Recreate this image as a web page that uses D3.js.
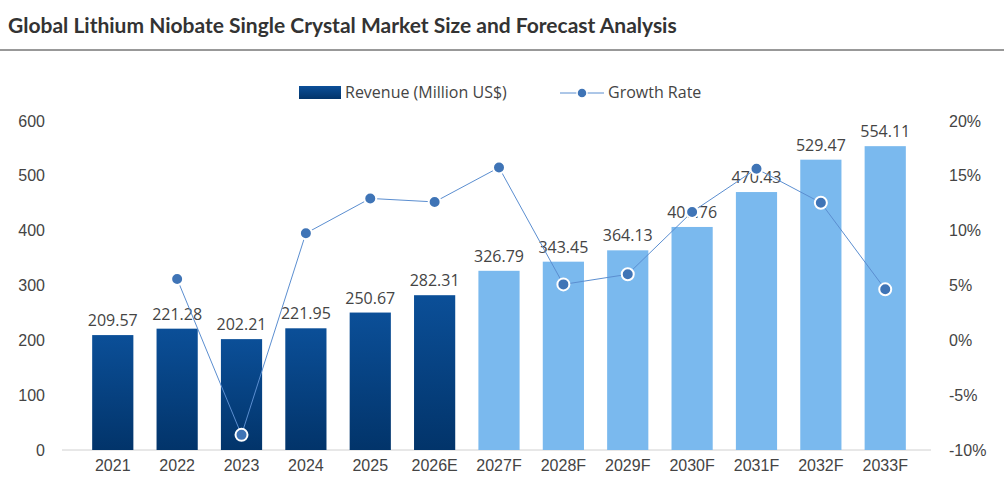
<!DOCTYPE html>
<html><head><meta charset="utf-8">
<script src="https://cdn.jsdelivr.net/npm/d3@7"></script>
<style>body{margin:0;background:#fff}</style>
</head><body>
<svg id="chart"></svg>
<script>
let years = ['2021','2022','2023','2024','2025','2026E','2027F','2028F','2029F','2030F','2031F','2032F','2033F'];
let revenue = [209.57,221.28,202.21,221.95,250.67,282.31,326.79,343.45,364.13,406.76,470.43,529.47,554.11];
let growth = [null,5.59,-8.62,9.76,12.94,12.62,15.76,5.10,6.02,11.71,15.65,12.55,4.65];
let leftTicks = [0,100,200,300,400,500,600];
let rightTicks = [-10,-5,0,5,10,15,20];

var w = 1004, h = 502;
var svg = d3.select('#chart').attr('width',w).attr('height',h)
  .style('font-family','"Open Sans", "DejaVu Sans", sans-serif');

var defs = svg.append('defs');
var grad = defs.append('linearGradient').attr('id','dark').attr('x1',0).attr('y1',0).attr('x2',0).attr('y2',1);
grad.append('stop').attr('offset','0%').attr('stop-color','#0b4f98');
grad.append('stop').attr('offset','100%').attr('stop-color','#02346a');

svg.append('text').attr('x',8).attr('y',33)
  .style('font-family','Lato, "Open Sans", sans-serif').style('font-weight','bold')
  .style('font-size','21px').attr('fill','#333')
  .text('Global Lithium Niobate Single Crystal Market Size and Forecast Analysis');
svg.append('line').attr('x1',0).attr('x2',w).attr('y1',50).attr('y2',50).attr('stroke','#333').attr('stroke-width',1);

var x = d3.scaleBand().domain(years).range([69,929]).padding(0.36);
var y = d3.scaleLinear().domain([0,600]).range([450,121]);
var y2 = d3.scaleLinear().domain([-10,20]).range([450,121]);

// axes
var gX = svg.append('g').attr('transform','translate(0,450)')
  .call(d3.axisBottom(x).tickSize(0).tickPadding(10));
gX.select('.domain').attr('stroke','#d0d0d0').attr('d','M62,0H931');
gX.selectAll('text').style('font-size','16px').attr('fill','#444');

var gY = svg.append('g').attr('transform','translate(48,0)')
  .call(d3.axisLeft(y).tickValues(leftTicks).tickSize(0));
gY.select('.domain').remove();
gY.selectAll('text').style('font-size','16px').attr('fill','#444');

var gY2 = svg.append('g').attr('transform','translate(946,0)')
  .call(d3.axisRight(y2).tickValues(rightTicks).tickSize(0).tickFormat(d=>d+'%'));
gY2.select('.domain').remove();
gY2.selectAll('text').style('font-size','16px').attr('fill','#444');

// bars
svg.append('g').selectAll('rect').data(years).enter().append('rect')
  .attr('x',d=>x(d)).attr('width',x.bandwidth())
  .attr('y',(d,i)=>y(revenue[i])).attr('height',(d,i)=>450-y(revenue[i]))
  .attr('fill',(d,i)=>i<6?'url(#dark)':'#7ab9ee');

svg.append('g').selectAll('text').data(years).enter().append('text')
  .attr('x',d=>x(d)+x.bandwidth()/2).attr('y',(d,i)=>y(revenue[i])-9)
  .attr('text-anchor','middle').style('font-size','16px').attr('fill','#444')
  .text((d,i)=>revenue[i].toFixed(2));

// growth line
var pts = years.map((d,i)=>({k:d,v:growth[i]})).filter(p=>p.v!==null);
var line = d3.line().x(p=>x(p.k)+x.bandwidth()/2).y(p=>y2(p.v));
svg.append('path').datum(pts).attr('d',line).attr('fill','none').attr('stroke','#5b8ed0').attr('stroke-width',1);
svg.append('g').selectAll('circle').data(pts).enter().append('circle')
  .attr('cx',p=>x(p.k)+x.bandwidth()/2).attr('cy',p=>y2(p.v)).attr('r',6)
  .attr('fill','#3f74b6').attr('stroke','#fff').attr('stroke-width',2);

// legend
var lg = svg.append('g');
lg.append('rect').attr('x',299).attr('y',86).attr('width',42).attr('height',13).attr('fill','url(#dark)');
lg.append('text').attr('x',345).attr('y',98).style('font-size','16px').attr('fill','#444').text('Revenue (Million US$)');
lg.append('line').attr('x1',560).attr('x2',604).attr('y1',93).attr('y2',93).attr('stroke','#5b8ed0');
lg.append('circle').attr('cx',582).attr('cy',93).attr('r',5).attr('fill','#3f74b6').attr('stroke','#fff').attr('stroke-width',1.5);
lg.append('text').attr('x',608).attr('y',98).style('font-size','16px').attr('fill','#444').text('Growth Rate');
</script>
</body></html>
